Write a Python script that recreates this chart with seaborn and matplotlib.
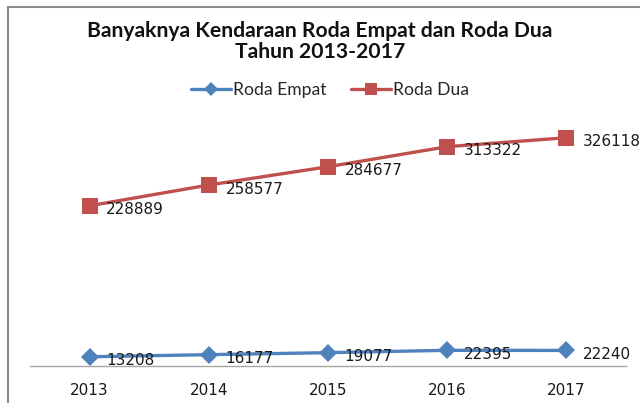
import matplotlib
matplotlib.use("Agg")
import matplotlib.pyplot as plt
import seaborn as sns
import pandas as pd
from matplotlib.patches import Rectangle
from matplotlib.lines import Line2D

years = ["2013", "2014", "2015", "2016", "2017"]
roda_empat = [13208, 16177, 19077, 22395, 22240]
roda_dua = [228889, 258577, 284677, 313322, 326118]
series_names = ["Roda Empat", "Roda Dua"]
colors = ["#4F81BD", "#C0504D"]

df = pd.DataFrame({
    "Tahun": years * 2,
    "Jumlah": roda_empat + roda_dua,
    "Jenis": [series_names[0]] * len(years) + [series_names[1]] * len(years),
})

sns.set_style("white")
plt.rcParams["font.family"] = ["DejaVu Sans"]

fig = plt.figure(figsize=(6.4, 4.03), dpi=100)
ax = fig.add_axes([30 / 640, 37 / 403, 596 / 640, 245 / 403])

sns.lineplot(data=df, x="Tahun", y="Jumlah", hue="Jenis", style="Jenis",
             palette=colors, markers={"Roda Empat": "D", "Roda Dua": "s"},
             dashes=False, linewidth=2.4, markersize=10, markeredgewidth=0,
             ax=ax, legend=False, sort=False)
for line, ms in zip(ax.lines, [9.5, 11]):
    line.set_markersize(ms)

ax.set_xlim(-0.5, 4.5)
ax.set_ylim(0, 350000)
ax.set_xlabel("")
ax.set_ylabel("")
ax.set_yticks([])
for side in ["top", "right", "left"]:
    ax.spines[side].set_visible(False)
ax.spines["bottom"].set_color("#a6a6a6")
ax.spines["bottom"].set_linewidth(1)
ax.tick_params(axis="x", length=0, pad=12, labelsize=11, colors="#1a1a1a")
for lab in ax.get_xticklabels():
    lab.set_family("DejaVu Sans")

for vals in [roda_empat, roda_dua]:
    for i, v in enumerate(vals):
        ax.annotate(str(v), (i, v), xytext=(12, -3), textcoords="offset points",
                    ha="left", va="center", fontsize=11, color="#1a1a1a",
                    family="DejaVu Sans")

title_font = {"family": "Lato", "size": 15.2, "weight": "bold"}
fig.text(0.5, 1 - 31 / 403, "Banyaknya Kendaraan Roda Empat dan Roda Dua",
         ha="center", va="center", color="#111111", **title_font)
fig.text(0.5, 1 - 52.5 / 403, "Tahun 2013-2017",
         ha="center", va="center", color="#111111", **title_font)

handles = [Line2D([], [], color=colors[0], marker="D", lw=2.4, markersize=7, markeredgewidth=0),
           Line2D([], [], color=colors[1], marker="s", lw=2.4, markersize=9, markeredgewidth=0)]
fig.legend(handles, series_names, loc="center", bbox_to_anchor=(330 / 640, 1 - 90 / 403),
           ncol=2, frameon=False, prop={"family": "Lato", "size": 12.6},
           handlelength=2.3, handletextpad=0.15, columnspacing=1.35)

fig.patches.append(Rectangle((8 / 640, -0.1), 1.2, 1.1 - 7 / 403, transform=fig.transFigure,
                             fill=False, edgecolor="#8c8c8c", linewidth=1.5))

fig.savefig("out.png", dpi=100)
